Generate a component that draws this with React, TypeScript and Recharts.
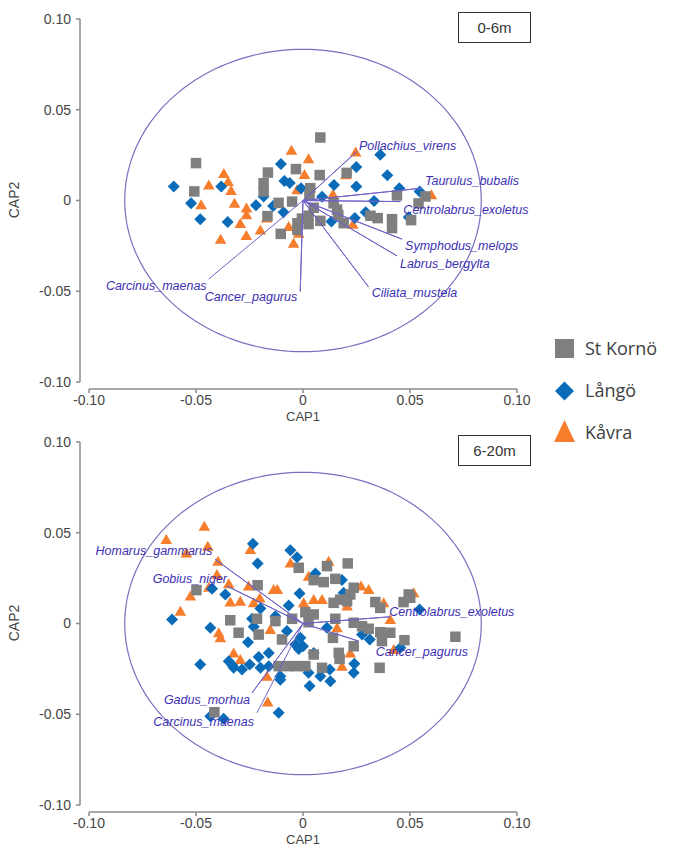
import React from 'react';
import { ScatterChart, Scatter, XAxis, YAxis, Label } from 'recharts';

// ---------- data ----------
const AXIS_TICKS = [-0.1, -0.05, 0, 0.05, 0.1];
const GROUPS = ['St Kornö', 'Långö', 'Kåvra'];
const PANEL_LABELS = ['0-6m', '6-20m'];
const CIRCLE_RADIUS = 0.0833;

const TOP_ST_KORNO: [number, number][] = [
  [0.0081, 0.0347], [-0.050, 0.0206], [-0.0508, 0.005], [-0.0164, 0.0154], [-0.0184, 0.0095],
  [-0.0184, 0.005], [-0.0033, 0.0173], [0.0078, 0.014], [0.0204, 0.0152], [0.0034, 0.0068],
  [0.003, 0.003], [-0.0114, -0.0013], [-0.0051, -0.0006], [-0.0166, -0.0086], [-0.0104, -0.0184],
  [-0.0026, -0.0125], [-0.0026, -0.0162], [0.0026, -0.0084], [0.0026, -0.013], [0.0081, -0.0112],
  [0.0143, -0.0015], [0.0159, -0.005], [0.0165, -0.008], [0.019, -0.0125], [0.0315, -0.0084],
  [0.0349, -0.0097], [0.0416, -0.0103], [0.0416, -0.0152], [0.0439, 0.0028], [0.0505, -0.0108],
  [0.054, -0.0016], [0.0572, 0.0022], [0.005, -0.004], [-0.0005, -0.01],
];
const TOP_LANGO: [number, number][] = [
  [-0.0604, 0.0077], [-0.0523, -0.0015], [-0.048, -0.0103], [-0.0382, 0.0077], [-0.0352, -0.0119],
  [-0.022, -0.0026], [-0.0184, 0.0022], [-0.014, -0.003], [-0.0091, -0.0065], [-0.0103, 0.0201],
  [-0.0087, 0.0108], [-0.0062, 0.0096], [-0.0009, 0.0068], [0.0089, 0.002], [0.0145, 0.0085],
  [0.0133, -0.0116], [0.0361, 0.0252], [0.0249, 0.0184], [0.0394, 0.0139], [0.0249, 0.0077],
  [0.045, 0.0068], [0.0545, 0.005], [0.0332, -0.0003], [0.0293, -0.0065], [0.0242, -0.0097],
  [0.0494, -0.0092],
];
const TOP_KAVRA: [number, number][] = [
  [-0.0054, 0.0277], [0.0026, 0.023], [0.0246, 0.0267], [-0.037, 0.0149], [-0.044, 0.0086],
  [-0.0336, 0.0055], [-0.0476, -0.0024], [-0.032, -0.0015], [-0.0264, -0.0042], [-0.0264, -0.0079],
  [-0.0293, -0.0127], [-0.0385, -0.0213], [-0.0265, -0.0193], [-0.0199, -0.0162], [-0.017, -0.0097],
  [-0.0044, -0.0235], [-0.002, -0.018], [-0.0067, -0.0143], [0.0007, 0.0143], [-0.0028, 0.0059],
  [0.014, 0.0035], [0.02, 0.0142], [0.0233, -0.0131], [0.06, 0.0031], [-0.035, 0.0105],
];

const BOTTOM_ST_KORNO: [number, number][] = [
  [0.0209, 0.0331], [0.0112, 0.0316], [-0.002, 0.0307], [0.0151, 0.0246], [0.005, 0.0239],
  [0.0097, 0.0228], [-0.0212, 0.0211], [-0.0498, 0.0184], [0.0237, 0.0197], [0.0221, 0.016],
  [0.0174, 0.0132], [0.0143, 0.0114], [0.0206, 0.0123], [0.0338, 0.0118], [0.0361, 0.0086],
  [0.0494, 0.016], [0.047, 0.0118], [0.0501, 0.0142], [0.0011, 0.0062], [0.005, 0.005],
  [-0.0051, 0.0026], [0.0026, 0.0007], [-0.0215, 0.0026], [-0.034, 0.0018], [-0.0301, -0.0051],
  [-0.0207, -0.0061], [-0.0129, 0.0013], [-0.0098, -0.0088], [0.014, -0.0079], [0.0237, 0.0004],
  [0.0276, -0.0015], [0.0307, -0.0029], [0.0361, -0.0048], [0.0408, -0.0051], [0.0369, -0.0097],
  [0.0474, -0.0092], [0.0712, -0.0073], [0.0358, -0.0244], [0.005, -0.0171], [0.0089, -0.0244],
  [0.0167, -0.0162], [0.0171, -0.0195], [0.0237, -0.0125], [-0.0114, -0.0235], [-0.0067, -0.0235],
  [-0.0028, -0.0235], [0.0011, -0.0235], [-0.0414, -0.0489], [0.0151, 0.0026],
];
const BOTTOM_LANGO: [number, number][] = [
  [-0.0234, 0.0439], [-0.0059, 0.0404], [-0.0028, 0.0365], [-0.0212, 0.0331], [-0.0016, 0.0165],
  [0.0058, 0.0275], [0.0182, 0.0239], [-0.0425, 0.0191], [-0.0363, 0.016], [-0.0199, 0.0083],
  [-0.0067, 0.0099], [-0.0129, 0.004], [0.019, 0.0169], [-0.0612, 0.0022], [-0.0433, -0.0024],
  [-0.0238, 0.0026], [-0.023, -0.0018], [-0.0075, -0.0042], [-0.0012, -0.0079], [-0.0036, -0.0116],
  [0.0, -0.0125], [0.0112, -0.0024], [-0.0257, -0.0103], [-0.048, -0.0226], [-0.0347, -0.0208],
  [-0.0324, -0.0244], [-0.0285, -0.0253], [-0.0249, -0.0226], [-0.0207, -0.0184], [-0.016, -0.0162],
  [-0.0199, -0.0244], [-0.016, -0.0235], [-0.0106, -0.029], [-0.0106, -0.031], [0.0031, -0.0345],
  [0.0026, -0.0272], [0.0081, -0.029], [0.0128, -0.0318], [0.0125, -0.0253], [0.024, -0.0222],
  [0.0237, -0.0272], [0.0276, -0.0061], [0.0312, -0.0088], [0.0455, -0.0134], [0.0545, 0.0077],
  [-0.0114, -0.0492], [-0.0433, -0.0511], [-0.0371, -0.0525], [0.005, -0.0162], [-0.033, -0.023],
  [-0.002, -0.014],
];
const BOTTOM_KAVRA: [number, number][] = [
  [-0.0461, 0.0536], [-0.0639, 0.0463], [-0.0445, 0.0426], [-0.0545, 0.0389], [-0.0246, 0.0408],
  [-0.0397, 0.0343], [-0.0059, 0.0334], [0.012, 0.0343], [-0.0402, 0.027], [-0.0347, 0.0219],
  [-0.0526, 0.0151], [-0.0573, 0.0068], [-0.0254, 0.0206], [-0.034, 0.0118], [-0.0293, 0.0123],
  [-0.0231, 0.0114], [-0.0202, 0.0141], [-0.0137, 0.0187], [-0.012, 0.0187], [0.0026, 0.0261],
  [0.005, 0.0132], [0.0089, 0.0132], [0.0003, 0.0114], [0.0271, 0.0206], [0.0307, 0.0187],
  [0.0377, 0.0114], [0.0408, 0.0022], [0.0517, 0.0169], [-0.0153, -0.0033], [-0.0394, -0.0051],
  [-0.0386, -0.0079], [-0.0324, -0.0162], [-0.0293, -0.0198], [-0.0168, -0.029], [-0.0165, -0.0433],
  [0.0159, -0.0024], [0.0221, -0.0162], [0.0182, -0.0235], [0.0424, -0.0143], [0.0206, 0.0096],
  [-0.044, 0.02],
];

const TOP_VECTORS = [
  { name: 'Pollachius_virens', x: 0.0252, y: 0.027 },
  { name: 'Taurulus_bubalis', x: 0.0556, y: 0.0068 },
  { name: 'Centrolabrus_exoletus', x: 0.0455, y: -0.0006 },
  { name: 'Symphodus_melops', x: 0.0463, y: -0.0213 },
  { name: 'Labrus_bergylta', x: 0.0439, y: -0.0305 },
  { name: 'Ciliata_mustela', x: 0.0307, y: -0.0477 },
  { name: 'Cancer_pagurus', x: -0.0013, y: -0.0501 },
  { name: 'Carcinus_maenas', x: -0.0441, y: -0.0433 },
];
const BOTTOM_VECTORS = [
  { name: 'Homarus_gammarus', x: -0.041, y: 0.0353 },
  { name: 'Gobius_niger', x: -0.0355, y: 0.0206 },
  { name: 'Centrolabrus_exoletus', x: 0.0408, y: 0.0037 },
  { name: 'Cancer_pagurus', x: 0.026, y: -0.0097 },
  { name: 'Gadus_morhua', x: -0.0238, y: -0.0382 },
  { name: 'Carcinus_maenas', x: -0.0215, y: -0.0492 },
];

// ---------- styles ----------
const GRAY = '#7f7f7f';
const BLUE = '#0a6cb8';
const ORANGE = '#f67d2c';
const AXIS = '#8a8a8a';
const VEC_LINE = '#6f62c6';
const VEC_TEXT = '#3b2fb3';
const CIRCLE = '#7a6fc0';
const FONT = '"Liberation Sans", Arial, sans-serif';

type Off = { anchor: 'start' | 'end'; dx: number; dy: number };
const TOP_LABEL_OFFSETS: Record<string, Off> = {
  Pollachius_virens: { anchor: 'start', dx: 2, dy: -5 },
  Taurulus_bubalis: { anchor: 'start', dx: 3, dy: -7 },
  Centrolabrus_exoletus: { anchor: 'start', dx: 3, dy: 8 },
  Symphodus_melops: { anchor: 'start', dx: 3, dy: 7 },
  Labrus_bergylta: { anchor: 'start', dx: 3, dy: 8 },
  Ciliata_mustela: { anchor: 'start', dx: 3, dy: 6 },
  Cancer_pagurus: { anchor: 'end', dx: -3, dy: 6 },
  Carcinus_maenas: { anchor: 'end', dx: -2, dy: 7 },
};
const BOTTOM_LABEL_OFFSETS: Record<string, Off> = {
  Homarus_gammarus: { anchor: 'end', dx: -3, dy: -8 },
  Gobius_niger: { anchor: 'end', dx: 0, dy: -7 },
  Centrolabrus_exoletus: { anchor: 'start', dx: -1, dy: -5 },
  Cancer_pagurus: { anchor: 'start', dx: 17, dy: 11 },
  Gadus_morhua: { anchor: 'end', dx: -2, dy: 7 },
  Carcinus_maenas: { anchor: 'end', dx: -3, dy: 9 },
};

const toPts = (arr: [number, number][]) => arr.map(([x, y]) => ({ x, y }));
const CIRCLE_STEPS = 144;
const circlePoints = Array.from({ length: CIRCLE_STEPS + 1 }, (_, i) => {
  const t = (2 * Math.PI * i) / CIRCLE_STEPS;
  return { x: CIRCLE_RADIUS * Math.cos(t), y: CIRCLE_RADIUS * Math.sin(t) };
});

const fmt = (v: number) => (v === 0 ? '0' : v.toFixed(2));

const squareShape = (p: any) =>
  p.cx == null ? <g /> : <rect x={p.cx - 5.25} y={p.cy - 5.25} width={10.5} height={10.5} fill={GRAY} />;
const diamondShape = (p: any) =>
  p.cx == null ? <g /> : (
    <polygon
      points={`${p.cx},${p.cy - 6} ${p.cx + 6},${p.cy} ${p.cx},${p.cy + 6} ${p.cx - 6},${p.cy}`}
      fill={BLUE}
    />
  );
const triangleShape = (p: any) =>
  p.cx == null ? <g /> : (
    <polygon
      points={`${p.cx},${p.cy - 5.5} ${p.cx + 5.8},${p.cy + 4.5} ${p.cx - 5.8},${p.cy + 4.5}`}
      fill={ORANGE}
    />
  );
const noShape = () => <g />;

const W = 545;
const H = 424;

function Panel({
  top, stk, lango, kavra, vectors, offsets, tag,
}: {
  top: number;
  stk: [number, number][];
  lango: [number, number][];
  kavra: [number, number][];
  vectors: { name: string; x: number; y: number }[];
  offsets: Record<string, Off>;
  tag: string;
}) {
  const star = vectors.flatMap((v) => [{ x: 0, y: 0 }, { x: v.x, y: v.y }]);
  const labelShape = (p: any) => {
    if (p.cx == null) return <g />;
    const name = p.payload?.name;
    const o = offsets[name] || { anchor: 'start', dx: 0, dy: 0 };
    return (
      <text
        x={p.cx + o.dx}
        y={p.cy + o.dy}
        textAnchor={o.anchor}
        dominantBaseline="central"
        fontFamily={FONT}
        fontStyle="italic"
        fontSize={12.5}
        fill={VEC_TEXT}
      >
        {name}
      </text>
    );
  };
  const tickStyle = { fontSize: 14, fill: '#454545', fontFamily: FONT };
  return (
    <div style={{ position: 'absolute', left: 0, top, width: W, height: H }}>
      <ScatterChart width={W} height={H} margin={{ top: 19, right: 28, bottom: 0, left: 0 }}>
        <XAxis
          type="number"
          dataKey="x"
          domain={[-0.1, 0.1]}
          ticks={AXIS_TICKS}
          padding={{ left: 9, right: 0 }}
          height={35}
          tickSize={4}
          tickMargin={2}
          tickFormatter={fmt}
          tick={tickStyle}
          axisLine={{ stroke: AXIS, strokeWidth: 1.5, strokeDasharray: '0 9 428 60' }}
          tickLine={{ stroke: AXIS, strokeWidth: 1.5 }}
          label={
            <Label
              content={(props: any) => {
                const vb = props.viewBox || { x: 80, y: 389, width: 437 };
                return (
                  <text
                    x={vb.x + 9 + (vb.width - 9) / 2}
                    y={vb.y + 27}
                    textAnchor="middle"
                    dominantBaseline="central"
                    fontFamily={FONT}
                    fontSize={13}
                    fill="#454545"
                  >
                    CAP1
                  </text>
                );
              }}
            />
          }
        />
        <YAxis
          type="number"
          dataKey="y"
          domain={[-0.1, 0.1]}
          ticks={AXIS_TICKS}
          padding={{ top: 0, bottom: 7 }}
          width={80}
          tickSize={4}
          tickMargin={5}
          tickFormatter={fmt}
          tick={tickStyle}
          axisLine={{ stroke: AXIS, strokeWidth: 1.5, strokeDasharray: '363 60' }}
          tickLine={{ stroke: AXIS, strokeWidth: 1.5 }}
          label={
            <Label
              content={(props: any) => {
                const vb = props.viewBox || { x: 0, y: 19, width: 80, height: 370 };
                const cx = vb.x + 14;
                const cy = vb.y + vb.height / 2 - 4;
                return (
                  <text
                    x={cx}
                    y={cy}
                    transform={`rotate(-90 ${cx} ${cy})`}
                    textAnchor="middle"
                    dominantBaseline="central"
                    fontFamily={FONT}
                    fontSize={14}
                    fill="#454545"
                  >
                    CAP2
                  </text>
                );
              }}
            />
          }
        />
        <Scatter
          name="circle"
          data={circlePoints}
          line={{ stroke: CIRCLE, strokeWidth: 1.2, fill: 'none' }}
          lineType="joint"
          shape={noShape}
          isAnimationActive={false}
          legendType="none"
        />
        <Scatter name={GROUPS[2]} data={toPts(kavra)} shape={triangleShape} isAnimationActive={false} />
        <Scatter name={GROUPS[1]} data={toPts(lango)} shape={diamondShape} isAnimationActive={false} />
        <Scatter name={GROUPS[0]} data={toPts(stk)} shape={squareShape} isAnimationActive={false} />
        <Scatter
          name="vectors"
          data={star}
          line={{ stroke: VEC_LINE, strokeWidth: 1, fill: 'none' }}
          lineType="joint"
          shape={noShape}
          isAnimationActive={false}
          legendType="none"
        />
        <Scatter name="vector labels" data={vectors} shape={labelShape} isAnimationActive={false} legendType="none" />
      </ScatterChart>
      <div
        style={{
          position: 'absolute',
          left: 458,
          top: 12,
          width: 73,
          height: 31,
          boxSizing: 'border-box',
          border: '1.5px solid #333',
          fontFamily: FONT,
          fontSize: 15,
          color: '#333',
          display: 'flex',
          alignItems: 'center',
          justifyContent: 'center',
          background: '#fff',
        }}
      >
        {tag}
      </div>
    </div>
  );
}

function LegendBlock() {
  const textStyle: React.CSSProperties = {
    position: 'absolute',
    left: 585,
    fontFamily: '"Open Sans", sans-serif',
    fontSize: 18,
    lineHeight: '20px',
    color: '#404040',
    whiteSpace: 'nowrap',
  };
  return (
    <>
      <svg style={{ position: 'absolute', left: 550, top: 330 }} width={30} height={120}>
        <rect x={5} y={9} width={19} height={19} fill={GRAY} />
        <polygon points="14.5,51.5 24,61 14.5,70.5 5,61" fill={BLUE} />
        <polygon points="14.5,90 25,112 4,112" fill={ORANGE} />
      </svg>
      <div style={{ ...textStyle, top: 338 }}>{GROUPS[0]}</div>
      <div style={{ ...textStyle, top: 379.5 }}>{GROUPS[1]}</div>
      <div style={{ ...textStyle, top: 421.5 }}>{GROUPS[2]}</div>
    </>
  );
}

export default function App() {
  return (
    <div
      style={{
        position: 'absolute',
        left: 0,
        top: 0,
        width: 678,
        height: 847,
        overflow: 'hidden',
        background: '#fff',
      }}
    >
      <Panel
        top={0}
        stk={TOP_ST_KORNO}
        lango={TOP_LANGO}
        kavra={TOP_KAVRA}
        vectors={TOP_VECTORS}
        offsets={TOP_LABEL_OFFSETS}
        tag={PANEL_LABELS[0]}
      />
      <Panel
        top={423}
        stk={BOTTOM_ST_KORNO}
        lango={BOTTOM_LANGO}
        kavra={BOTTOM_KAVRA}
        vectors={BOTTOM_VECTORS}
        offsets={BOTTOM_LABEL_OFFSETS}
        tag={PANEL_LABELS[1]}
      />
      <LegendBlock />
    </div>
  );
}
